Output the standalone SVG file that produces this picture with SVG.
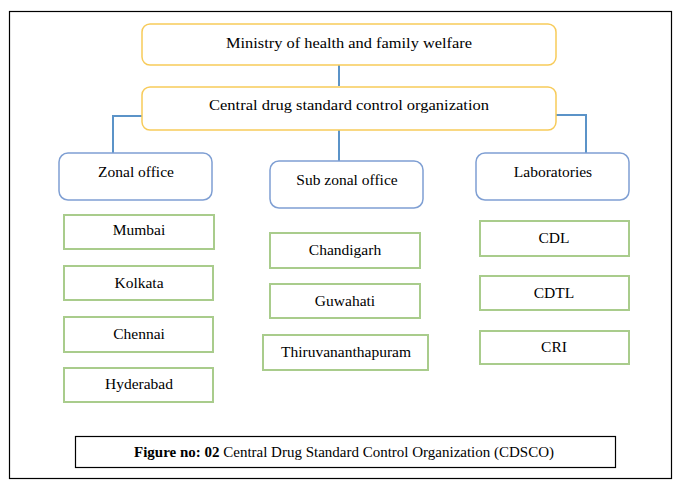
<svg xmlns="http://www.w3.org/2000/svg" width="682" height="485" viewBox="0 0 682 485" font-family="'Liberation Serif', 'Times New Roman', Times, serif">
<style>
text{font-family:'Liberation Serif','Times New Roman',Times,serif;font-size:15.5px;fill:#000;text-anchor:middle}
.y{fill:#fff;stroke:#F7CB5A;stroke-width:1.5}
.b{fill:#fff;stroke:#7F9FD3;stroke-width:1.5}
.g{fill:#fff;stroke:#A9CC8C;stroke-width:2}
.c{fill:none;stroke:#5B93C8;stroke-width:2}
</style>
<rect x="0" y="0" width="682" height="485" fill="#fff"/>
<rect x="9.5" y="11.5" width="662" height="467" fill="none" stroke="#000" stroke-width="1.2"/>
<g id="connectors">
<line class="c" x1="339" y1="65" x2="339" y2="86"/>
<polyline class="c" points="142,116 113,116 113,153"/>
<line class="c" x1="339" y1="130" x2="339" y2="161"/>
<polyline class="c" points="556,115 586,115 586,153"/>
</g>
<g id="ministry"><rect class="y" x="142" y="24" width="414" height="41" rx="8"/><text x="349" y="48" textLength="246" lengthAdjust="spacingAndGlyphs">Ministry of health and family welfare</text></g>
<g id="cdsco"><rect class="y" x="142" y="87" width="414" height="43" rx="8"/><text x="349" y="110" textLength="280" lengthAdjust="spacingAndGlyphs">Central drug standard control organization</text></g>
<g id="zonal"><rect class="b" x="59" y="153" width="153" height="47" rx="9"/><text x="136" y="177">Zonal office</text></g>
<g id="subzonal"><rect class="b" x="270" y="161" width="153" height="47" rx="9"/><text x="347" y="185">Sub zonal office</text></g>
<g id="labs"><rect class="b" x="476" y="153" width="153" height="47" rx="9"/><text x="553" y="177">Laboratories</text></g>
<g id="mumbai"><rect class="g" x="64" y="215" width="150" height="34"/><text x="139" y="235">Mumbai</text></g>
<g id="kolkata"><rect class="g" x="64" y="266" width="149" height="34"/><text x="139" y="288">Kolkata</text></g>
<g id="chennai"><rect class="g" x="64" y="317" width="149" height="35"/><text x="139" y="339">Chennai</text></g>
<g id="hyderabad"><rect class="g" x="64" y="368" width="149" height="34"/><text x="139" y="389">Hyderabad</text></g>
<g id="chandigarh"><rect class="g" x="270" y="233" width="150" height="35"/><text x="345" y="255">Chandigarh</text></g>
<g id="guwahati"><rect class="g" x="270" y="284" width="150" height="34"/><text x="345" y="306">Guwahati</text></g>
<g id="thiru"><rect class="g" x="263" y="335" width="165" height="35"/><text x="346" y="357">Thiruvananthapuram</text></g>
<g id="cdl"><rect class="g" x="480" y="221" width="149" height="35"/><text x="554" y="243">CDL</text></g>
<g id="cdtl"><rect class="g" x="480" y="276" width="149" height="34"/><text x="554" y="298">CDTL</text></g>
<g id="cri"><rect class="g" x="480" y="331" width="149" height="33"/><text x="554" y="352">CRI</text></g>
<g id="caption"><rect x="75.5" y="436.5" width="540" height="31" fill="#fff" stroke="#000" stroke-width="1.2"/><text x="344" y="457" font-size="14.5" textLength="420" lengthAdjust="spacingAndGlyphs"><tspan font-weight="bold">Figure no: 02</tspan> Central Drug Standard Control Organization (CDSCO)</text></g>
</svg>
